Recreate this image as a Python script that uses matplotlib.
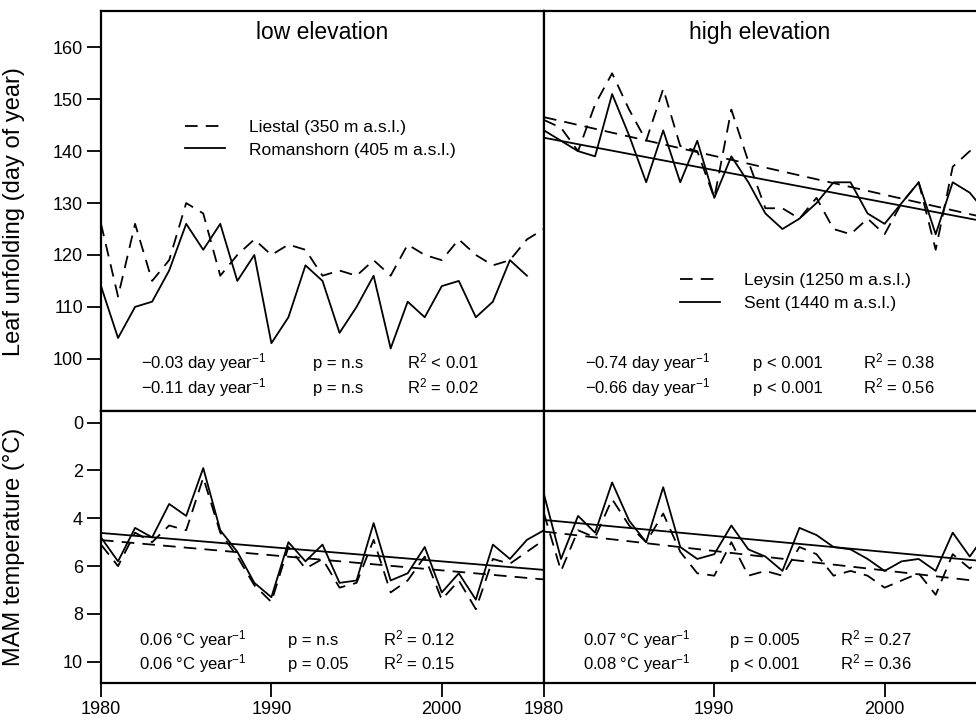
import numpy as np
import matplotlib.pyplot as plt

plt.rcParams['font.family'] = ['Liberation Sans', 'DejaVu Sans']
plt.rcParams['mathtext.fontset'] = 'custom'
plt.rcParams['mathtext.rm'] = 'Liberation Sans'
plt.rcParams['mathtext.it'] = 'Liberation Sans:italic'

# years
years = np.arange(1980, 2007)
years_rom = np.arange(1980, 2006)

# leaf unfolding (day of year)
liestal_leaf = [126, 112, 126, 115, 119, 130, 128, 116, 120, 123, 120, 122, 121, 116,
                117, 116, 119, 116, 122, 120, 119, 123, 120, 118, 119, 123, 125]
romanshorn_leaf = [114, 104, 110, 111, 117, 126, 121, 126, 115, 120, 103, 108, 118,
                   115, 105, 110, 116, 102, 111, 108, 114, 115, 108, 111, 119, 116]
leysin_leaf = [146, 144.5, 140, 149, 155, 148, 142, 152, 141, 140, 131, 148, 138, 129,
               129, 127, 131, 125, 124, 127, 124, 130, 134, 121, 137, 140, 142]
sent_leaf = [144, 142, 140, 139, 151, 143, 134, 144, 134, 142, 131, 139, 134, 128,
             125, 127, 130, 134, 134, 128, 126, 130, 134, 124, 134, 132, 128]

# MAM temperature (deg C)
liestal_temp = [5.1, 6.0, 4.6, 5.0, 4.3, 4.5, 2.3, 4.6, 5.6, 6.8, 7.5, 5.2, 6.1, 5.7,
                6.9, 6.7, 4.9, 7.1, 6.6, 5.6, 7.4, 6.6, 7.8, 5.7, 5.9, 5.4, 4.9]
romanshorn_temp = [4.8, 5.8, 4.4, 4.8, 3.4, 3.9, 1.9, 4.5, 5.4, 6.7, 7.3, 5.0, 5.8, 5.1,
                   6.7, 6.6, 4.2, 6.6, 6.3, 5.2, 7.1, 6.3, 7.4, 5.1, 5.7, 4.9, 4.5]
leysin_temp = [3.8, 6.2, 4.5, 4.8, 3.2, 4.3, 5.0, 3.8, 5.4, 6.3, 6.4, 5.0, 6.4, 6.2,
               6.4, 5.2, 5.5, 6.4, 6.2, 6.4, 6.9, 6.6, 6.3, 7.2, 5.5, 6.1, 5.5]
sent_temp = [3.0, 5.7, 3.9, 4.6, 2.5, 4.1, 5.0, 2.7, 5.2, 5.7, 5.5, 4.3, 5.3, 5.6,
             6.2, 4.4, 4.7, 5.2, 5.3, 5.7, 6.2, 5.8, 5.7, 6.2, 4.6, 5.6, 4.6]

# regression statistics text (dashed station first, solid second)
stats_tl = [['\u22120.03 day year$^{-1}$', 'p = n.s', 'R$^2$ < 0.01'],
            ['\u22120.11 day year$^{-1}$', 'p = n.s', 'R$^2$ = 0.02']]
stats_tr = [['\u22120.74 day year$^{-1}$', 'p < 0.001', 'R$^2$ = 0.38'],
            ['\u22120.66 day year$^{-1}$', 'p < 0.001', 'R$^2$ = 0.56']]
stats_bl = [['0.06 \u00b0C year$^{-1}$', 'p = n.s', 'R$^2$ = 0.12'],
            ['0.06 \u00b0C year$^{-1}$', 'p = 0.05', 'R$^2$ = 0.15']]
stats_br = [['0.07 \u00b0C year$^{-1}$', 'p = 0.005', 'R$^2$ = 0.27'],
            ['0.08 \u00b0C year$^{-1}$', 'p < 0.001', 'R$^2$ = 0.36']]

DASH = (0, (7, 4.5))
LW = 1.3

W, H = 976, 722
fig = plt.figure(figsize=(W / 100, H / 100), dpi=100)


def box(x0, x1, y0, y1):
    return [x0 / W, 1 - y1 / H, (x1 - x0) / W, (y1 - y0) / H]


ax_tl = fig.add_axes(box(101, 544, 11, 410.7))
ax_tr = fig.add_axes(box(544, 976, 11, 410.7))
ax_bl = fig.add_axes(box(101, 544, 410.7, 683.3))
ax_br = fig.add_axes(box(544, 976, 410.7, 683.3))

for ax in [ax_tl, ax_tr, ax_bl, ax_br]:
    for s in ax.spines.values():
        s.set_linewidth(1.6)
    ax.tick_params(direction='out', length=10, width=1.3, labelsize=13, pad=3)

# x limits (right panels are cut off at the image edge)
for ax in [ax_tl, ax_bl]:
    ax.set_xlim(1980, 2006)
for ax in [ax_tr, ax_br]:
    ax.set_xlim(1980, 1980 + 432 / 17.03)
    ax.spines['right'].set_visible(False)
    ax.set_yticks([])

for ax in [ax_tl, ax_tr]:
    ax.set_ylim(90, 167)
    ax.set_xticks([])
for ax in [ax_bl, ax_br]:
    ax.set_ylim(10.9, -0.5)
    ax.set_xticks([1980, 1990, 2000])

ax_tl.set_yticks([100, 110, 120, 130, 140, 150, 160])
ax_bl.set_yticks([0, 2, 4, 6, 8, 10])


def trend(ax, x, y, ls):
    k, b = np.polyfit(x, y, 1)
    xx = np.array([1980, 2006])
    ax.plot(xx, k * xx + b, color='black', lw=LW, linestyle=ls)


# top left: low elevation leaf unfolding
ax_tl.plot(years, liestal_leaf, color='black', lw=LW, linestyle=DASH,
           label='Liestal (350 m a.s.l.)')
ax_tl.plot(years_rom, romanshorn_leaf, color='black', lw=LW,
           label='Romanshorn (405 m a.s.l.)')

# top right: high elevation leaf unfolding
ax_tr.plot(years, leysin_leaf, color='black', lw=LW, linestyle=DASH,
           label='Leysin (1250 m a.s.l.)')
ax_tr.plot(years, sent_leaf, color='black', lw=LW, label='Sent (1440 m a.s.l.)')
trend(ax_tr, years, leysin_leaf, DASH)
trend(ax_tr, years, sent_leaf, '-')

# bottom: temperatures
ax_bl.plot(years, liestal_temp, color='black', lw=LW, linestyle=DASH)
ax_bl.plot(years, romanshorn_temp, color='black', lw=LW)
trend(ax_bl, years, liestal_temp, DASH)
trend(ax_bl, years, romanshorn_temp, '-')

ax_br.plot(years, leysin_temp, color='black', lw=LW, linestyle=DASH)
ax_br.plot(years, sent_temp, color='black', lw=LW)
trend(ax_br, years, leysin_temp, DASH)
trend(ax_br, years, sent_temp, '-')

# panel titles
ax_tl.text(0.5, 0.945, 'low elevation', transform=ax_tl.transAxes,
           ha='center', va='center', fontsize=16.5)
ax_tr.text(0.5, 0.945, 'high elevation', transform=ax_tr.transAxes,
           ha='center', va='center', fontsize=16.5)

# legends
ax_tl.legend(loc='center left', bbox_to_anchor=(0.19, 0.681), frameon=False,
             fontsize=12.5, handlelength=2.3, handletextpad=1.4,
             labelspacing=0.45, borderpad=0, borderaxespad=0)
ax_tr.legend(loc='center left', bbox_to_anchor=(0.315, 0.297), frameon=False,
             fontsize=12.5, handlelength=2.3, handletextpad=1.4,
             labelspacing=0.45, borderpad=0, borderaxespad=0)


def put_stats(ax, rows, cols, ys):
    for row, y in zip(rows, ys):
        for txt, x in zip(row, cols):
            ax.text(x, y, txt, transform=ax.transAxes, ha='left', va='baseline',
                    fontsize=12)


put_stats(ax_tl, stats_tl, [0.090, 0.479, 0.690], [0.107, 0.044])
put_stats(ax_tr, stats_tr, [0.095, 0.484, 0.738], [0.107, 0.044])
put_stats(ax_bl, stats_bl, [0.086, 0.422, 0.637], [0.1405, 0.0525])
put_stats(ax_br, stats_br, [0.090, 0.431, 0.685], [0.1405, 0.0525])

# y axis labels
fig.text(14 / W, 1 - 212 / H, 'Leaf unfolding (day of year)', rotation=90,
         ha='center', va='center', fontsize=17)
fig.text(14 / W, 1 - 547 / H, 'MAM temperature (\u00b0C)', rotation=90,
         ha='center', va='center', fontsize=17)

fig.savefig('out.png', dpi=100)
